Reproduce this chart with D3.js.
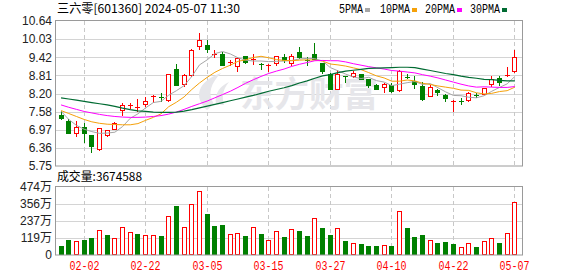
<!DOCTYPE html>
<html><head><meta charset="utf-8">
<script src="https://cdn.jsdelivr.net/npm/d3@7"></script>
<style>body{margin:0;background:#fff}svg{display:block}</style>
</head><body>
<svg id="c" width="578" height="276"></svg>
<script>
const dates = ["01-30","01-31","02-01","02-02","02-05","02-06","02-07","02-08","02-19","02-20","02-21","02-22","02-23","02-26","02-27","02-28","02-29","03-01","03-04","03-05","03-06","03-07","03-08","03-11","03-12","03-13","03-14","03-15","03-18","03-19","03-20","03-21","03-22","03-25","03-26","03-27","03-28","03-29","04-01","04-02","04-03","04-08","04-09","04-10","04-11","04-12","04-15","04-16","04-17","04-18","04-19","04-22","04-23","04-24","04-25","04-26","04-29","04-30","05-06","05-07"];
const open  = [7.48,7.28,6.85,7.07,6.78,6.34,6.81,7.01,7.65,7.76,7.71,7.84,8.09,8.07,7.99,9.03,8.51,8.83,9.81,9.83,9.52,9.52,9.23,9.11,9.45,9.35,9.18,9.15,9.22,9.44,9.22,9.59,9.32,9.52,9.23,8.86,8.34,8.77,8.78,8.85,8.69,8.49,8.40,8.49,8.32,8.76,8.60,8.44,8.12,8.32,8.14,7.92,7.95,7.96,8.15,8.19,8.52,8.72,8.79,8.94];
const high  = [7.61,7.35,7.28,7.20,6.79,7.04,6.97,7.22,7.86,7.88,8.02,8.09,8.16,8.22,8.86,9.20,8.86,9.69,10.23,10.00,9.67,9.58,9.31,9.41,9.46,9.52,9.24,9.18,9.46,9.52,9.54,9.75,9.42,9.90,9.24,8.89,9.00,8.80,8.94,8.86,8.70,8.50,8.55,8.55,9.00,8.86,8.77,8.57,8.49,8.36,8.19,7.99,8.05,8.25,8.21,8.38,8.77,8.80,9.08,9.67];
const low   = [7.35,6.86,6.77,6.56,6.23,6.28,6.76,7.00,7.48,7.71,7.62,7.76,7.90,7.95,7.93,8.49,8.45,8.78,9.68,9.61,9.42,9.14,9.14,8.97,9.21,9.18,9.02,8.96,9.17,9.25,9.17,9.40,9.14,9.35,8.87,8.33,8.33,8.58,8.76,8.68,8.43,8.33,8.23,8.24,8.29,8.72,8.38,7.99,8.10,8.14,7.93,7.62,7.84,7.95,8.07,8.19,8.44,8.47,8.77,8.93];
const close = [7.36,6.87,7.07,6.85,6.42,7.03,6.95,7.20,7.82,7.82,7.75,7.95,8.10,8.05,8.85,8.49,8.81,9.67,10.00,9.69,9.53,9.16,9.26,9.38,9.27,9.37,9.16,9.17,9.45,9.31,9.45,9.41,9.30,9.36,8.94,8.33,8.85,8.75,8.89,8.70,8.49,8.33,8.51,8.27,8.96,8.74,8.51,8.02,8.43,8.24,8.04,7.93,7.94,8.21,8.13,8.38,8.68,8.58,8.81,9.42];
const prevClose0 = 7.48;
// volume in 万 shares
const volume = [62,104,97,104,118,171,139,116,192,160,146,136,136,132,275,340,192,354,444,287,204,208,146,153,132,194,146,104,167,125,178,167,132,255,187,139,185,97,83,76,62,62,69,62,305,187,125,139,104,83,90,76,55,83,55,97,118,83,153,367];
const ma5  = [7.60,7.32,7.12,6.99,6.91,6.85,6.86,6.89,7.08,7.36,7.51,7.71,7.89,7.93,8.14,8.29,8.46,8.77,9.16,9.33,9.54,9.61,9.53,9.40,9.32,9.29,9.29,9.27,9.28,9.29,9.31,9.36,9.38,9.37,9.29,9.07,8.96,8.85,8.75,8.70,8.74,8.63,8.58,8.46,8.51,8.56,8.60,8.50,8.53,8.39,8.25,8.13,8.12,8.07,8.05,8.12,8.27,8.40,8.52,8.77];
const ma10 = [7.62,7.52,7.42,7.32,7.24,7.19,7.16,7.15,7.14,7.14,7.18,7.29,7.39,7.51,7.75,7.90,8.08,8.33,8.55,8.74,8.91,9.04,9.15,9.28,9.33,9.41,9.45,9.40,9.34,9.31,9.30,9.32,9.33,9.32,9.29,9.19,9.16,9.12,9.06,9.00,8.90,8.79,8.72,8.61,8.61,8.65,8.62,8.54,8.50,8.45,8.41,8.37,8.31,8.30,8.22,8.18,8.20,8.26,8.29,8.41];
const ma20 = [7.81,7.73,7.66,7.59,7.54,7.49,7.45,7.42,7.40,7.39,7.39,7.40,7.42,7.45,7.50,7.57,7.66,7.76,7.85,7.94,8.05,8.16,8.27,8.40,8.54,8.66,8.77,8.87,8.95,9.02,9.11,9.18,9.24,9.30,9.31,9.30,9.30,9.26,9.20,9.15,9.10,9.06,9.02,8.97,8.95,8.92,8.89,8.83,8.78,8.72,8.65,8.58,8.51,8.45,8.41,8.42,8.41,8.40,8.40,8.43];
const ma30 = [8.05,8.01,7.97,7.93,7.89,7.85,7.81,7.76,7.70,7.65,7.61,7.59,7.57,7.56,7.56,7.57,7.60,7.65,7.71,7.77,7.83,7.89,7.95,8.01,8.07,8.13,8.20,8.27,8.33,8.39,8.46,8.55,8.62,8.71,8.79,8.83,8.90,8.95,8.98,9.01,9.04,9.05,9.06,9.07,9.08,9.08,9.07,9.02,8.97,8.92,8.87,8.83,8.78,8.74,8.71,8.67,8.66,8.64,8.62,8.62];
const priceTicks = ["5.75","6.36","6.97","7.58","8.20","8.81","9.42","10.03","10.64"];
const volTicks = ["0","119万","237万","356万","474万"];
const dateTicks = ["02-02","02-22","03-05","03-15","03-27","04-10","04-22","05-07"];
const legendLabels = ["5PMA","10PMA","20PMA","30PMA"];
const maColors = ["#a6a6a6","#f5a10a","#ff00ff","#006b32"];
const title = "三六零[601360] 2024-05-07 11:30";
const volLabel = "成交量:3674588";

const RED = "#ff0000", GREEN = "#008000";
const L = 55, R = 522;
const PT = 21, PB = 166, VT = 187, VB = 255;
const svg = d3.select("#c");

const x = d3.scaleBand().domain(dates).range([56.7, 518.2]).paddingInner(0);
const cx = d => Math.round(x(d) + x.bandwidth() / 2);
const y = d3.scaleLinear().domain([5.75, 10.64]).range([PB, PT]);
const vy = d3.scaleLinear().domain([0, 474]).range([VB, VT]);
const idx = d3.range(dates.length);

// grids
const g = svg.append("g");
const priceTickPos = d3.range(priceTicks.length).map(k => PB - k * (PB - PT) / (priceTicks.length - 1));
g.selectAll(".hp").data(priceTickPos.slice(1, -1)).join("line")
  .attr("x1", L).attr("x2", R).attr("y1", d => Math.round(d) + 0.5).attr("y2", d => Math.round(d) + 0.5)
  .attr("stroke", "#d4d4d4");
const volTickPos = volTicks.map((t, k) => vy(k * 474 / 4));
g.selectAll(".hv").data(volTickPos.slice(1, -1)).join("line")
  .attr("x1", L).attr("x2", R).attr("y1", d => Math.round(d) + 0.5).attr("y2", d => Math.round(d) + 0.5)
  .attr("stroke", "#d4d4d4");
[[PT, PB], [VT, VB]].forEach(([a, b]) => {
  g.selectAll(null).data(dateTicks).join("line")
    .attr("x1", d => cx(d) + 0.5).attr("x2", d => cx(d) + 0.5)
    .attr("y1", a).attr("y2", b)
    .attr("stroke", "#c8c8c8").attr("stroke-dasharray", "4,3");
});

// watermark
const wm = svg.append("g").attr("fill", "#e6e6ea");
wm.append("path").attr("d", "M207,110 C194,98 196,82 221,73 C211,83 207,94 214,104 Z M216,104 C214,94 220,86 229,82 C222,90 222,98 224,105 Z");
wm.append("text").attr("x", 240).attr("y", 107).attr("font-family", "Noto Sans CJK SC").attr("font-weight", "bold")
  .attr("font-size", 35).attr("textLength", 138).attr("lengthAdjust", "spacingAndGlyphs").text("东方财富");

// candles
const cg = svg.append("g");
idx.forEach(i => {
  const d = dates[i], c = cx(d);
  const up = close[i] >= open[i];
  const col = up ? RED : GREEN;
  cg.append("line").attr("x1", c + 0.5).attr("x2", c + 0.5)
    .attr("y1", Math.round(y(high[i]))).attr("y2", Math.round(y(low[i])) + 1).attr("stroke", col);
  const t = Math.round(y(Math.max(open[i], close[i]))), b = Math.round(y(Math.min(open[i], close[i])));
  if (b - t < 2) {
    cg.append("rect").attr("x", c - 2).attr("y", t).attr("width", 5).attr("height", 1).attr("fill", col);
  } else if (up) {
    cg.append("rect").attr("x", c - 1.5).attr("y", t + 0.5).attr("width", 4).attr("height", b - t)
      .attr("fill", "#fff").attr("stroke", RED);
  } else {
    cg.append("rect").attr("x", c - 2).attr("y", t).attr("width", 5).attr("height", b - t + 1).attr("fill", GREEN);
  }
});

// MA lines
const line = d3.line().x((v, i) => x(dates[i]) + x.bandwidth() / 2 + 0.5).y(v => y(v));
[ma5, ma10, ma20, ma30].forEach((arr, k) => {
  svg.append("path").attr("d", line(arr)).attr("fill", "none").attr("stroke", maColors[k])
    .attr("stroke-width", k === 3 ? 1.2 : 1);
});

// volume bars
const vg = svg.append("g");
idx.forEach(i => {
  const c = cx(dates[i]);
  const pc = i === 0 ? prevClose0 : close[i - 1];
  const up = close[i] >= pc;
  const t = Math.round(vy(volume[i]));
  if (up) {
    vg.append("rect").attr("x", c - 1.5).attr("y", t + 0.5).attr("width", 4).attr("height", VB - t - 1)
      .attr("fill", "#fff").attr("stroke", RED);
  } else {
    vg.append("rect").attr("x", c - 2).attr("y", t).attr("width", 5).attr("height", VB - t).attr("fill", GREEN);
  }
});

// borders
svg.append("rect").attr("x", L + 0.5).attr("y", PT - 0.5).attr("width", R - L).attr("height", PB - PT + 0.5)
  .attr("fill", "none").attr("stroke", "#9a9a9a");
svg.append("rect").attr("x", L + 0.5).attr("y", VT - 0.5).attr("width", R - L).attr("height", VB - VT + 0.5)
  .attr("fill", "none").attr("stroke", "#9a9a9a");

// axis labels
const lab = svg.append("g").attr("font-family", "Liberation Sans, Arial, sans-serif").attr("font-size", 12)
  .attr("fill", "#222").attr("text-anchor", "end");
lab.selectAll(".pl").data(priceTicks).join("text")
  .attr("x", 52).attr("y", (t, k) => priceTickPos[k]).attr("dy", "0.36em").text(t => t);
lab.selectAll(".vl").data(volTicks).join("text")
  .attr("x", 52).attr("y", (t, k) => volTickPos[k]).attr("dy", "0.36em")
  .attr("font-family", "Liberation Sans, Noto Sans CJK SC, sans-serif").text(t => t);

svg.append("g").selectAll("text").data(dateTicks).join("text")
  .attr("x", d => cx(d) + 0.5).attr("y", 270).attr("text-anchor", "middle")
  .attr("font-family", "Liberation Mono, monospace").attr("font-size", 12).attr("fill", RED)
  .attr("textLength", 30).attr("lengthAdjust", "spacingAndGlyphs").text(d => d);

// title
svg.append("text").attr("x", 57).attr("y", 13).attr("font-family", "Noto Sans CJK SC").attr("font-size", 12)
  .attr("fill", "#000").attr("textLength", 183).attr("lengthAdjust", "spacingAndGlyphs").text(title);
svg.append("text").attr("x", 57).attr("y", 181).attr("font-family", "Noto Sans CJK SC").attr("font-size", 12)
  .attr("fill", "#000").attr("textLength", 85).attr("lengthAdjust", "spacingAndGlyphs").text(volLabel);

// legend
let cur = 339;
const lg = svg.append("g");
legendLabels.forEach((t, k) => {
  const w = t.length * 6;
  lg.append("text").attr("x", cur).attr("y", 13).attr("font-family", "Liberation Mono, monospace")
    .attr("font-size", 12).attr("fill", "#000").attr("textLength", w).attr("lengthAdjust", "spacingAndGlyphs").text(t);
  lg.append("rect").attr("x", cur + w + 2).attr("y", 8).attr("width", 5).attr("height", 4).attr("fill", maColors[k]);
  cur += w + 2 + 5 + (k === 0 ? 10 : 8);
});
</script>
</body></html>
